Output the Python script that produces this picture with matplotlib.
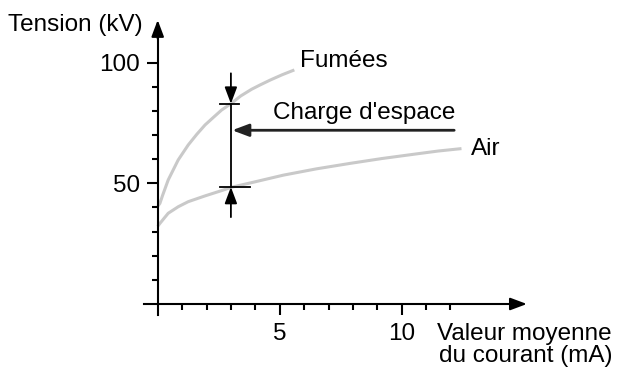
import matplotlib
matplotlib.use("Agg")
import matplotlib.pyplot as plt

plt.rcParams['font.family'] = ['Liberation Sans', 'DejaVu Sans']

# Courbes (courant en mA, tension en kV)
fumees_i = [0, 0.09, 0.2, 0.43, 0.84, 1.25, 1.6, 1.94, 2.3, 2.62, 3.0, 3.4, 3.85, 4.2, 4.61, 5.1, 5.6]
fumees_u = [40.5, 41.7, 45, 51.4, 59.7, 65.9, 70.3, 74.2, 77.5, 80.4, 83, 86.2, 89, 90.8, 92.8, 95, 97]
air_i = [0, 0.09, 0.43, 0.84, 1.25, 1.94, 2.62, 3.03, 3.85, 5.15, 6.5, 7.9, 9.2, 10.6, 11.5, 12.45]
air_u = [32.2, 33.4, 37.6, 40.3, 42.4, 44.8, 47, 48.4, 50.3, 53.4, 56, 58.3, 60.3, 62.2, 63.4, 64.4]

# Repère "charge d'espace"
i_mark = 3.0
u_fumees_mark = 83.0
u_air_mark = 48.5
u_bar_top = 95.6
u_bar_bottom = 36
u_charge = 72

x_major = [5, 10]
x_minor = list(range(1, 13))
y_major = [50, 100]
y_minor = list(range(10, 101, 10))

GREY = '#c9c9c9'
FS = 17.5

fig = plt.figure(figsize=(6.17, 3.71), dpi=100)
ax = fig.add_axes([0, 0, 1, 1])
# axe couvrant toute la figure : 24.4 px/mA, 2.413 px/kV
ax.set_xlim(-157.7 / 24.4, (617 - 157.7) / 24.4)
ax.set_ylim((304 - 371) / 2.413, 304 / 2.413)

for s in ['top', 'right']:
    ax.spines[s].set_visible(False)
ax.spines['left'].set_position(('data', 0))
ax.spines['bottom'].set_position(('data', 0))
ax.spines['left'].set_bounds(-4.6, 112)
ax.spines['bottom'].set_bounds(-0.56, 14.6)
for s in ['left', 'bottom']:
    ax.spines[s].set_linewidth(1.5)

ax.set_xticks(x_major)
ax.set_xticks(x_minor, minor=True)
ax.set_yticks(y_major)
ax.set_yticks(y_minor, minor=True)
ax.tick_params(which='major', direction='out', length=8, width=1.5,
               labelsize=FS, pad=6)
ax.tick_params(which='minor', direction='out', length=4, width=1.5)
ax.tick_params(axis='y', which='major', pad=5)

arrow_style = '-|>,head_length=0.4,head_width=0.15'
# flèches des axes
ax.annotate('', xy=(0, 117.7), xytext=(0, 110),
            arrowprops=dict(arrowstyle=arrow_style, mutation_scale=25, lw=1.5,
                            color='black', shrinkA=0, shrinkB=0))
ax.annotate('', xy=(15.13, 0), xytext=(14.5, 0),
            arrowprops=dict(arrowstyle=arrow_style, mutation_scale=25, lw=1.5,
                            color='black', shrinkA=0, shrinkB=0))

ax.plot(fumees_i, fumees_u, color=GREY, lw=2.2, solid_capstyle='butt')
ax.plot(air_i, air_u, color=GREY, lw=2.2, solid_capstyle='butt')

# barre verticale et flèches
ax.plot([i_mark, i_mark], [u_air_mark, u_fumees_mark], color='black', lw=1.3)
ax.annotate('', xy=(i_mark, u_fumees_mark), xytext=(i_mark, u_bar_top),
            arrowprops=dict(arrowstyle=arrow_style, mutation_scale=25, lw=1.3,
                            color='black', shrinkA=0, shrinkB=0))
ax.annotate('', xy=(i_mark, u_air_mark), xytext=(i_mark, u_bar_bottom),
            arrowprops=dict(arrowstyle=arrow_style, mutation_scale=25, lw=1.3,
                            color='black', shrinkA=0, shrinkB=0))
ax.plot([2.56, 3.32], [u_fumees_mark, u_fumees_mark], color='black', lw=1.3)
ax.plot([2.56, 3.8], [u_air_mark, u_air_mark], color='black', lw=1.3)

ax.annotate('', xy=(3.05, u_charge), xytext=(12.15, u_charge),
            arrowprops=dict(arrowstyle=arrow_style, mutation_scale=25, lw=2,
                            color='#222222', shrinkA=0, shrinkB=0))

ax.text(8.45, 79, "Charge d'espace", fontsize=FS, ha='center', va='center')
ax.text(5.85, 100.6, 'Fumées', fontsize=FS, ha='left', va='center')
ax.text(12.85, 64.3, 'Air', fontsize=FS, ha='left', va='center')
ax.text(-0.6, 115.6, 'Tension (kV)', fontsize=FS, ha='right', va='center')
ax.text(18.62, -17, 'Valeur moyenne\ndu courant (mA)', fontsize=FS,
        ha='right', va='center', linespacing=1.05)

fig.savefig('out.png', dpi=100)
